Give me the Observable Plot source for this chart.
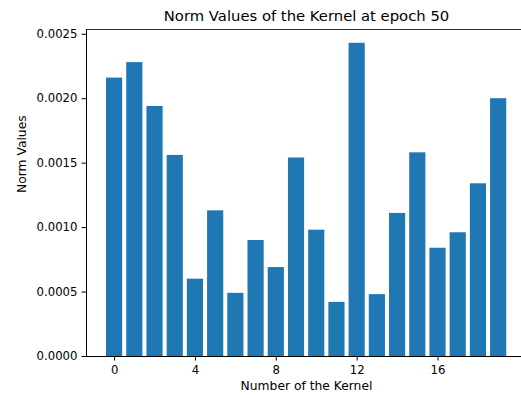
<!DOCTYPE html>
<html>
<head>
<meta charset="utf-8">
<script src="https://cdn.jsdelivr.net/npm/d3@7"></script>
<script src="https://cdn.jsdelivr.net/npm/@observablehq/plot@0.6"></script>
<style>
  html, body { margin: 0; padding: 0; background: #fff; }
  svg { display: block; }
</style>
</head>
<body>
<div id="chart"></div>
<script>
const kernels = [0, 1, 2, 3, 4, 5, 6, 7, 8, 9, 10, 11, 12, 13, 14, 15, 16, 17, 18, 19];
const normValues = [0.00216, 0.00228, 0.00194, 0.00156, 0.00060, 0.00113, 0.00049, 0.00090, 0.00069, 0.00154,
                    0.00098, 0.00042, 0.00243, 0.00048, 0.00111, 0.00158, 0.00084, 0.00096, 0.00134, 0.00200];
const xTicks = [0, 4, 8, 12, 16];
const yTicks = [0.0000, 0.0005, 0.0010, 0.0015, 0.0020, 0.0025];
const title = "Norm Values of the Kernel at epoch 50";
const xLabel = "Number of the Kernel";
const yLabel = "Norm Values";

const data = kernels.map((k, i) => ({k, v: normValues[i]}));
const barHalf = 0.4;
const yMax = d3.max(normValues) * 1.044;
const xDomain = [-1.39, 20.13];
const font = "DejaVu Sans, sans-serif";

const chart = Plot.plot({
  width: 521,
  height: 398,
  marginLeft: 86,
  marginRight: 0,
  marginTop: 29,
  marginBottom: 42,
  style: {fontFamily: font, fontSize: "11.7px", color: "#000", background: "#fff"},
  x: {domain: xDomain, ticks: xTicks, tickFormat: d3.format("d"), label: null},
  y: {domain: [0, yMax], ticks: yTicks, tickFormat: d3.format(".4f"), label: null},
  marks: [
    Plot.rectY(data, {x1: d => d.k - barHalf, x2: d => d.k + barHalf, y1: 0, y2: "v", fill: "#1f77b4"}),
    Plot.axisX({ticks: xTicks, tickFormat: d3.format("d"), tickSize: 4.5, tickPadding: 4.5, fontSize: 11.7, label: null}),
    Plot.axisY({ticks: yTicks, tickFormat: d3.format(".4f"), tickSize: 4.5, tickPadding: 4.5, fontSize: 11.7, label: null}),
    Plot.ruleY([0], {stroke: "#000", strokeWidth: 1}),
    Plot.ruleY([yMax], {stroke: "#333", strokeWidth: 1}),
    Plot.ruleX([xDomain[0]], {stroke: "#000", strokeWidth: 1}),
    Plot.text([title], {frameAnchor: "top", lineAnchor: "middle", dy: -13, dx: 2.5, fontSize: 14.8, fill: "#000"}),
    Plot.text([xLabel], {frameAnchor: "bottom", lineAnchor: "middle", dy: 30, dx: 2.5, fontSize: 12.3, fill: "#000"}),
    Plot.text([yLabel], {frameAnchor: "left", dx: -64, rotate: -90, fontSize: 12.3, fill: "#000"})
  ]
});
document.getElementById("chart").appendChild(chart);
</script>
</body>
</html>
